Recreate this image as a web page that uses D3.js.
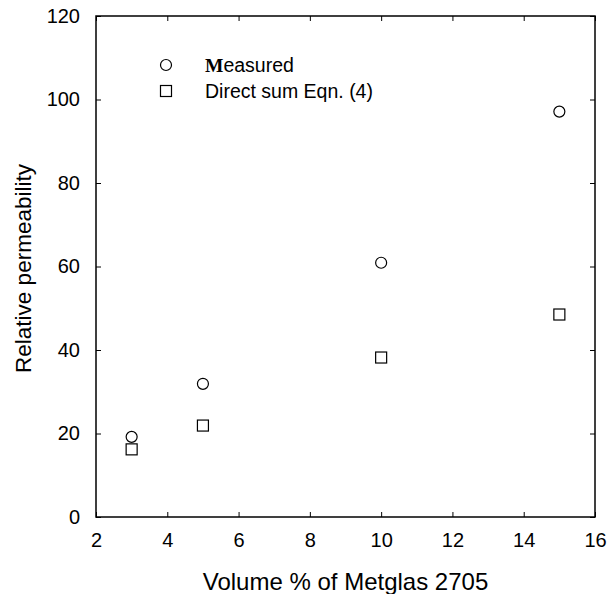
<!DOCTYPE html>
<html><head><meta charset="utf-8">
<script src="https://cdn.jsdelivr.net/npm/d3@7"></script>
<style>body{margin:0;background:#fff}svg{display:block}text{font-family:Arial,"Liberation Sans",sans-serif;fill:#000}</style>
</head><body>
<script>
const volume = [3, 5, 10, 15];
const measured = [19.2, 31.9, 60.9, 97.1];
const directSum = [16.2, 21.9, 38.2, 48.5];
const xTicks = [2, 4, 6, 8, 10, 12, 14, 16];
const yTicks = [0, 20, 40, 60, 80, 100, 120];
const seriesNames = ["Measured", "Direct sum Eqn. (4)"];

const W = 608, H = 594;
const m = {left: 96, right: 13, top: 16, bottom: 77};
const svg = d3.select("body").append("svg").attr("width", W).attr("height", H);
const x = d3.scaleLinear().domain([2, 16]).range([m.left, W - m.right]);
const y = d3.scaleLinear().domain([0, 120]).range([H - m.bottom, m.top]);

const g = svg.append("g");
g.append("rect").attr("x", x(2)).attr("y", y(120)).attr("width", x(16) - x(2)).attr("height", y(0) - y(120))
  .attr("fill", "none").attr("stroke", "#000").attr("stroke-width", 1.5);

const tl = 5;
const xb = svg.append("g").attr("transform", `translate(0,${y(0)})`)
  .call(d3.axisBottom(x).tickValues(xTicks).tickSizeInner(-tl).tickSizeOuter(0).tickPadding(16));
const xt = svg.append("g").attr("transform", `translate(0,${y(120)})`)
  .call(d3.axisTop(x).tickValues(xTicks).tickSizeInner(-tl).tickSizeOuter(0).tickFormat(""));
const yl = svg.append("g").attr("transform", `translate(${x(2)},0)`)
  .call(d3.axisLeft(y).tickValues(yTicks).tickSizeInner(-tl).tickSizeOuter(0).tickPadding(16));
const yr = svg.append("g").attr("transform", `translate(${x(16)},0)`)
  .call(d3.axisRight(y).tickValues(yTicks).tickSizeInner(-tl).tickSizeOuter(0).tickFormat(""));
[xb, xt, yl, yr].forEach(a => {
  a.select(".domain").remove();
  a.selectAll("line").attr("stroke", "#000").attr("stroke-width", 1);
  a.selectAll("text").style("font-family", "Arial, 'Liberation Sans', sans-serif").style("font-size", "20px").attr("fill", "#000");
});
xb.selectAll("text").attr("dy", "0.71em");

const r = 5.5, s = 11;
svg.append("g").selectAll("circle").data(volume).join("circle")
  .attr("cx", (d) => x(d)).attr("cy", (d, i) => y(measured[i])).attr("r", r)
  .attr("fill", "#fff").attr("stroke", "#000").attr("stroke-width", 1.2);
svg.append("g").selectAll("rect").data(volume).join("rect")
  .attr("x", d => x(d) - s / 2).attr("y", (d, i) => y(directSum[i]) - s / 2).attr("width", s).attr("height", s)
  .attr("fill", "#fff").attr("stroke", "#000").attr("stroke-width", 1.2);

const lg = svg.append("g");
lg.append("circle").attr("cx", 166).attr("cy", 65).attr("r", r).attr("fill", "#fff").attr("stroke", "#000").attr("stroke-width", 1.2);
lg.append("rect").attr("x", 166 - s / 2).attr("y", 91 - s / 2).attr("width", s).attr("height", s).attr("fill", "#fff").attr("stroke", "#000").attr("stroke-width", 1.2);
const t1 = lg.append("text").attr("x", 205).attr("y", 65).attr("dy", "0.35em").style("font-size", "19.5px");
t1.append("tspan").style("font-family", "'Liberation Serif','Times New Roman',serif").style("font-weight", "bold").text(seriesNames[0][0]);
t1.append("tspan").text(seriesNames[0].slice(1));
lg.append("text").attr("x", 205).attr("y", 91).attr("dy", "0.35em").style("font-size", "19.5px").text(seriesNames[1]);

svg.append("text").attr("x", (x(2) + x(16)) / 2).attr("y", 582).attr("text-anchor", "middle").attr("dy", "0.35em")
  .style("font-size", "24px").text("Volume % of Metglas 2705");
svg.append("text").attr("transform", `translate(23,${(y(0) + y(120)) / 2 + 2}) rotate(-90)`).attr("text-anchor", "middle").attr("dy", "0.35em")
  .style("font-size", "22.5px").text("Relative permeability");
</script>
</body></html>
